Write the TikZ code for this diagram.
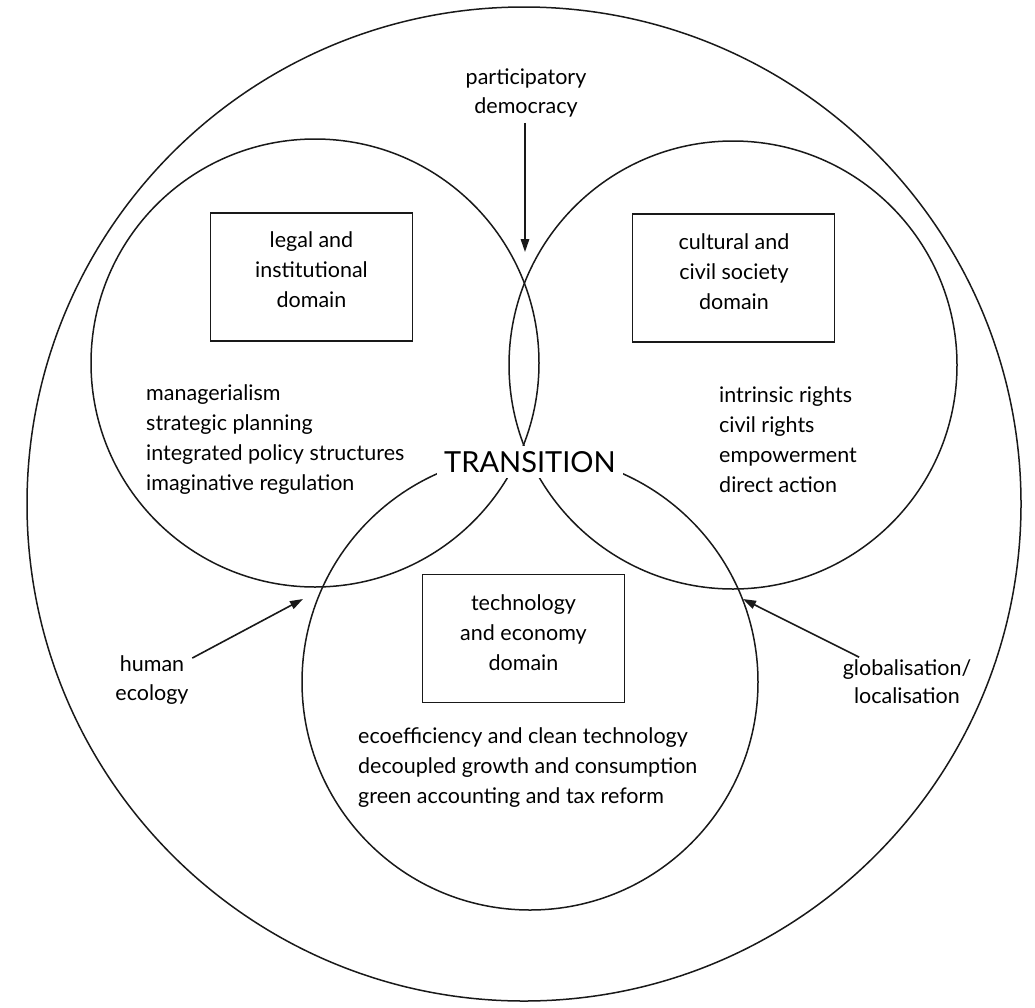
\documentclass[tikz,border=0pt]{standalone}
\usepackage{fontspec}
\setmainfont{Lato}
\usetikzlibrary{arrows.meta}
\begin{document}
\begin{tikzpicture}[x=1pt,y=-1pt,
  ring/.style={circle, draw=black!90, line width=1.5pt, inner sep=0pt},
  dombox/.style={draw=black!90, line width=1.8pt, minimum width=202pt, minimum height=128pt, inner sep=0pt},
  lbl/.style={font=\fontsize{21.5}{30}\selectfont, text=black, align=center, inner sep=0pt, anchor=base},
  lst/.style={font=\fontsize{21.5}{30}\selectfont, text=black, align=left, inner sep=0pt, anchor=base west},
  arr/.style={line width=1.6pt, draw=black!90, -{Triangle[length=13pt,width=8.5pt]}}
]
\useasboundingbox (0,0) rectangle (1035,1007);
% circles
\node[ring, minimum size=994pt] (outer) at (524,504) {};
\node[ring, minimum size=448pt] (lcirc) at (315,363) {};
\node[ring, minimum size=448pt] (rcirc) at (733,365) {};
\node[ring, minimum size=456pt] (bcirc) at (530,682) {};
% centre label
\node[fill=white, inner xsep=7pt, inner ysep=6pt, text height=20pt, text depth=0pt,
      font=\fontsize{29}{29}\selectfont, text=black] (trans) at (530,462) {TRANSITION};
% domain boxes (base anchor = baseline of the last line)
\node[dombox] (lbox) at (311.5,277) {};
\node[lbl] (ltxt) at (311.5,307) {legal and\\institutional\\domain};
\node[dombox] (rbox) at (733.5,278) {};
\node[lbl] (rtxt) at (734,309) {cultural and\\civil society\\domain};
\node[dombox] (bbox) at (523.5,638.5) {};
\node[lbl] (btxt) at (523.5,670) {technology\\and economy\\domain};
% lists
\node[lst] (llist) at (146,490) {managerialism\\strategic planning\\integrated policy structures\\imaginative regulation};
\node[lst] (rlist) at (719,492) {intrinsic rights\\civil rights\\empowerment\\direct action};
\node[lst] (blist) at (358,803) {ecoefficiency and clean technology\\decoupled growth and consumption\\green accounting and tax reform};
% external influences
\node[lbl, font=\fontsize{21.5}{29}\selectfont] (pd) at (526,113) {participatory\\democracy};
\node[lbl, font=\fontsize{21.5}{29}\selectfont] (he) at (152,700) {human\\ecology};
\node[lbl, font=\fontsize{21.5}{28}\selectfont] (gl) at (907,703) {globalisation/\\localisation};
\coordinate (ptip) at (525,252);
\coordinate (hetip) at (303,599);
\coordinate (gltip) at (743,599);
\draw[arr, shorten <=6pt] (pd.south -| ptip) -- (ptip);
\draw[arr, shorten <=4pt] (he) -- (hetip);
\draw[arr, shorten <=4pt] (gl) -- (gltip);
\end{tikzpicture}
\end{document}
